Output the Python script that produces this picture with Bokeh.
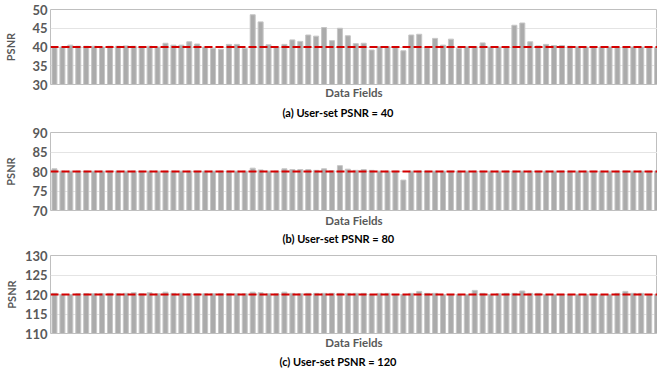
from bokeh.plotting import figure
from bokeh.layouts import column
from bokeh.models import Span, FixedTicker, Range1d, ColumnDataSource, Title
from bokeh.embed import file_html
from bokeh.resources import INLINE

# ---------------- data ----------------
fields = list(range(77))

psnr_40 = [40.0, 40.0, 40.5, 40.2, 40.2, 40.2, 40.0, 40.2, 40.2, 40.3,
           40.2, 40.0, 40.2, 40.0, 41.0, 40.5, 40.5, 41.4, 40.8, 40.0,
           39.6, 39.4, 40.7, 40.7, 39.6, 48.6, 46.7, 40.6, 40.1, 40.7,
           41.9, 41.5, 43.2, 42.9, 45.2, 41.7, 45.0, 43.0, 40.9, 41.0,
           39.2, 40.1, 40.1, 40.1, 39.0, 43.2, 43.4, 39.8, 42.3, 40.5,
           42.1, 39.6, 40.1, 40.1, 41.1, 40.0, 40.0, 40.0, 45.8, 46.4,
           41.4, 40.3, 40.7, 40.4, 40.4, 40.2, 40.1, 40.0, 40.0, 40.0,
           40.0, 40.0, 40.0, 40.0, 40.0, 40.0, 39.8]

psnr_80 = [80.7, 80.1, 80.1, 80.1, 80.1, 80.1, 80.1, 80.1, 80.1, 80.1,
           80.1, 80.1, 80.1, 80.1, 80.1, 80.1, 80.1, 80.1, 80.1, 80.1,
           80.1, 80.1, 80.1, 80.1, 80.1, 80.85, 80.4, 80.1, 80.1, 80.7,
           80.5, 80.5, 80.5, 80.3, 80.7, 80.2, 81.5, 80.6, 80.3, 80.5,
           80.3, 80.1, 80.1, 80.1, 77.8, 80.1, 80.1, 80.1, 80.1, 80.1,
           80.1, 80.1, 80.1, 80.1, 80.1, 80.1, 80.1, 80.1, 80.1, 80.1,
           80.1, 80.1, 80.1, 80.1, 80.1, 80.1, 80.1, 80.1, 80.1, 80.1,
           80.1, 80.1, 80.1, 80.1, 80.1, 80.1, 80.1]

psnr_120 = [120.3, 120.0, 120.0, 120.2, 120.2, 120.2, 120.2, 120.3, 120.2, 120.3,
            120.45, 120.2, 120.45, 120.2, 120.6, 120.3, 120.3, 120.2, 120.2, 120.2,
            120.2, 120.2, 120.2, 120.2, 120.2, 120.6, 120.45, 120.2, 120.2, 120.6,
            120.3, 120.2, 120.3, 120.3, 120.3, 120.3, 120.3, 120.3, 120.3, 120.3,
            120.0, 120.3, 120.3, 120.0, 120.0, 120.3, 120.8, 120.3, 120.3, 120.0,
            120.0, 120.0, 120.0, 121.05, 120.3, 120.0, 120.2, 120.3, 120.3, 120.9,
            120.3, 120.3, 120.0, 120.0, 120.0, 120.0, 120.0, 120.0, 120.0, 120.0,
            120.0, 120.3, 120.8, 120.3, 120.3, 120.0, 120.0]

targets = [40, 80, 120]
ticks_a = [30, 35, 40, 45, 50]
ticks_b = [70, 75, 80, 85, 90]
ticks_c = [110, 115, 120, 125, 130]
captions = ["(a) User-set PSNR = 40", "(b) User-set PSNR = 80", "(c) User-set PSNR = 120"]
x_title = "Data Fields"
y_title = "PSNR"

FONT = "Lato"
GREY_TXT = "#595959"


def panel(values, target, ticks, caption, height, top, bottom, ylab_standoff,
          xlab_standoff, cap_standoff, cap_offset):
    p = figure(width=657, height=height, output_backend="svg", toolbar_location=None,
               x_range=Range1d(-0.5, 76.05), y_range=Range1d(ticks[0], ticks[-1]),
               min_border_left=50, min_border_right=0,
               min_border_top=top, min_border_bottom=bottom)
    src = ColumnDataSource(dict(x=fields, top=values, bottom=[ticks[0]] * len(values)))
    p.vbar(x="x", top="top", bottom="bottom", width=0.63, source=src,
           fill_color="#ababab", line_color="#c6c6c6", line_width=1)
    p.add_layout(Span(location=target, dimension="width", line_color="#d40000",
                      line_dash="8 3", line_width=2))
    # x axis: only the title "Data Fields"
    xa = p.xaxis[0]
    xa.ticker = FixedTicker(ticks=[])
    xa.axis_line_color = None
    xa.major_tick_line_color = None
    xa.minor_tick_line_color = None
    xa.major_tick_out = 0
    xa.major_label_standoff = 0
    xa.axis_label = x_title
    xa.axis_label_standoff = xlab_standoff
    xa.axis_label_text_font = FONT
    xa.axis_label_text_font_style = "bold"
    xa.axis_label_text_font_size = "11.5px"
    xa.axis_label_text_color = GREY_TXT
    # y axis
    ya = p.yaxis[0]
    ya.ticker = FixedTicker(ticks=ticks)
    ya.axis_line_color = None
    ya.major_tick_line_color = None
    ya.minor_tick_line_color = None
    ya.major_tick_out = 0
    ya.major_label_standoff = 3
    ya.major_label_text_font = FONT
    ya.major_label_text_font_style = "bold"
    ya.major_label_text_font_size = "13px"
    ya.major_label_text_color = GREY_TXT
    ya.axis_label = y_title
    ya.axis_label_standoff = ylab_standoff
    ya.axis_label_text_font = FONT
    ya.axis_label_text_font_style = "bold"
    ya.axis_label_text_font_size = "11px"
    ya.axis_label_text_color = GREY_TXT
    p.xgrid.grid_line_color = None
    p.ygrid.grid_line_color = "#e4e4e4"
    p.ygrid.ticker = FixedTicker(ticks=ticks)
    p.outline_line_color = "#bfbfbf"
    p.outline_line_width = 1
    p.background_fill_color = "white"
    p.border_fill_color = "white"
    p.add_layout(Title(text=caption, align="left", offset=cap_offset, standoff=cap_standoff,
                       text_font=FONT, text_font_style="bold", text_font_size="11px",
                       text_color="black"), "below")
    return p


pa = panel(psnr_40, targets[0], ticks_a, captions[0], 122, 9, 38, 12, 1, 4, 232)
pb = panel(psnr_80, targets[1], ticks_b, captions[1], 123, 10, 35, 12, 3, 1, 232)
pc = panel(psnr_120, targets[2], ticks_c, captions[2], 124, 10, 36, 4, 2, 3, 229)

layout = column(pa, pb, pc, spacing=0)
open("out.html", "w").write(file_html(layout, INLINE))
